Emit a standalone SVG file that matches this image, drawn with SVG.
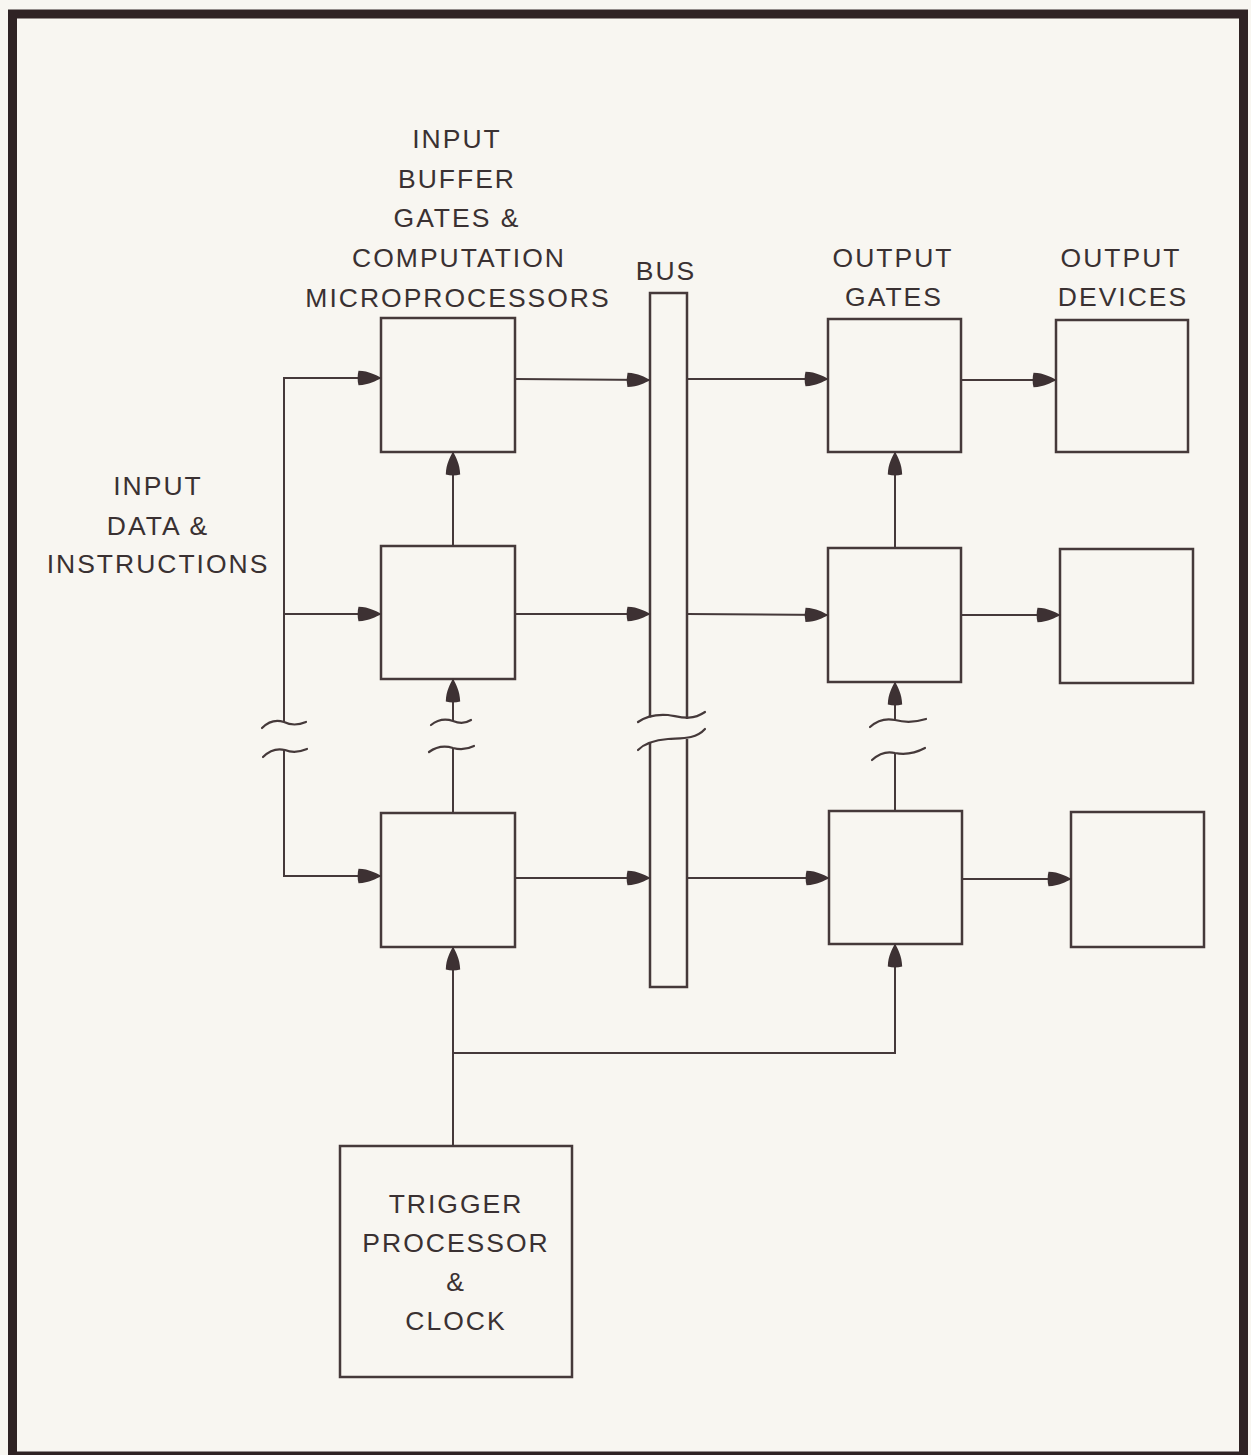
<svg xmlns="http://www.w3.org/2000/svg" width="1251" height="1455" viewBox="0 0 1251 1455">
  <defs>
    <style>
      .bg { fill: #f8f6f1; }
      .frame { fill: none; stroke: #2f2324; stroke-width: 9; }
      .box { fill: none; stroke: #45393a; stroke-width: 2.5; }
      .ln { fill: none; stroke: #45393a; stroke-width: 2; }
      .arr { fill: none; stroke: #45393a; stroke-width: 2; marker-end: url(#ah); }
      .brk { fill: none; stroke: #45393a; stroke-width: 2.2; stroke-linecap: round; }
      text { font-family: "Liberation Sans", Arial, sans-serif; font-size: 26.5px; fill: #3a3132; letter-spacing: 2px; text-anchor: middle; }
    </style>
    <marker id="ah" viewBox="-1 0 26 16" markerWidth="26" markerHeight="16" refX="23.5" refY="8" markerUnits="userSpaceOnUse" orient="auto">
      <path d="M1,0.8 C12,1.2 18,5 24,8 C18,11 12,14.8 1,15.2 Q-0.8,8 1,0.8 Z" fill="#3d3133"/>
    </marker>
  </defs>

  <rect class="bg" x="0" y="0" width="1251" height="1455"/>
  <rect class="frame" x="12.5" y="14" width="1231" height="1442"/>

  <g id="labels">
    <text x="457" y="148">INPUT</text>
    <text x="457" y="188">BUFFER</text>
    <text x="457" y="227">GATES &amp;</text>
    <text x="459" y="267">COMPUTATION</text>
    <text x="458" y="307">MICROPROCESSORS</text>
    <text x="666" y="280">BUS</text>
    <text x="893" y="267">OUTPUT</text>
    <text x="894" y="306">GATES</text>
    <text x="1121" y="267">OUTPUT</text>
    <text x="1123" y="306">DEVICES</text>
    <text x="158" y="495">INPUT</text>
    <text x="158" y="535">DATA &amp;</text>
    <text x="158" y="573">INSTRUCTIONS</text>
  </g>

  <g id="in1"><rect class="box" x="381" y="318" width="134" height="134"/></g>
  <g id="in2"><rect class="box" x="381" y="546" width="134" height="133"/></g>
  <g id="in3"><rect class="box" x="381" y="813" width="134" height="134"/></g>

  <g id="bus">
    <path class="box" d="M650,717.5 L650,293 L687,293 L687,719"/>
    <path class="box" d="M650,743 L650,987 L687,987 L687,739"/>
    <path class="brk" d="M638,722 C645,717 655,714 668,715 C678,716 690,722 705,712"/>
    <path class="brk" d="M638,750 C645,743 655,740 668,739 C680,738 695,740 705,729"/>
  </g>

  <g id="gate1"><rect class="box" x="828" y="319" width="133" height="133"/></g>
  <g id="gate2"><rect class="box" x="828" y="548" width="133" height="134"/></g>
  <g id="gate3"><rect class="box" x="829" y="811" width="133" height="133"/></g>

  <g id="dev1"><rect class="box" x="1056" y="320" width="132" height="132"/></g>
  <g id="dev2"><rect class="box" x="1060" y="549" width="133" height="134"/></g>
  <g id="dev3"><rect class="box" x="1071" y="812" width="133" height="135"/></g>

  <g id="trigger">
    <rect class="box" x="340" y="1146" width="232" height="231"/>
    <text x="456" y="1213">TRIGGER</text>
    <text x="456" y="1252">PROCESSOR</text>
    <text x="456" y="1291">&amp;</text>
    <text x="456" y="1330">CLOCK</text>
  </g>

  <g id="connectors">
    <!-- input feed -->
    <path class="arr" d="M284,722 L284,378 L381,378"/>
    <path class="arr" d="M284,614 L381,614"/>
    <path class="arr" d="M284,750 L284,876 L381,876"/>
    <path class="brk" d="M262,728 Q272,718 284,722 Q294,727 306,722"/>
    <path class="brk" d="M263,757 Q273,747 285,750 Q295,754 307,749"/>
    <!-- input column vertical -->
    <path class="arr" d="M453,546 L453,452"/>
    <path class="ln" d="M453,813 L453,748"/>
    <path class="arr" d="M453,721 L453,679"/>
    <path class="brk" d="M431,725 Q441,717 453,721 Q463,725 471,720"/>
    <path class="brk" d="M429,752 Q440,744 453,748 Q464,751 474,746"/>
    <!-- to bus -->
    <path class="arr" d="M515,379 L650,380"/>
    <path class="arr" d="M515,614 L650,614"/>
    <path class="arr" d="M515,878 L650,878"/>
    <!-- bus to gates -->
    <path class="arr" d="M687,379 L828,379"/>
    <path class="arr" d="M687,614 L828,615"/>
    <path class="arr" d="M687,878 L829,878"/>
    <!-- gates to devices -->
    <path class="arr" d="M961,380 L1056,380"/>
    <path class="arr" d="M961,615 L1060,615"/>
    <path class="arr" d="M962,879 L1071,879"/>
    <!-- output column vertical -->
    <path class="arr" d="M895,548 L895,452"/>
    <path class="ln" d="M895,811 L895,753"/>
    <path class="arr" d="M895,720 L895,682"/>
    <path class="brk" d="M870,727 Q881,717 895,720 Q910,724 926,719"/>
    <path class="brk" d="M872,760 Q883,750 895,753 Q910,756 925,748"/>
    <!-- trigger -->
    <path class="arr" d="M453,1146 L453,947"/>
    <path class="arr" d="M453,1053 L895,1053 L895,944"/>
  </g>
</svg>
